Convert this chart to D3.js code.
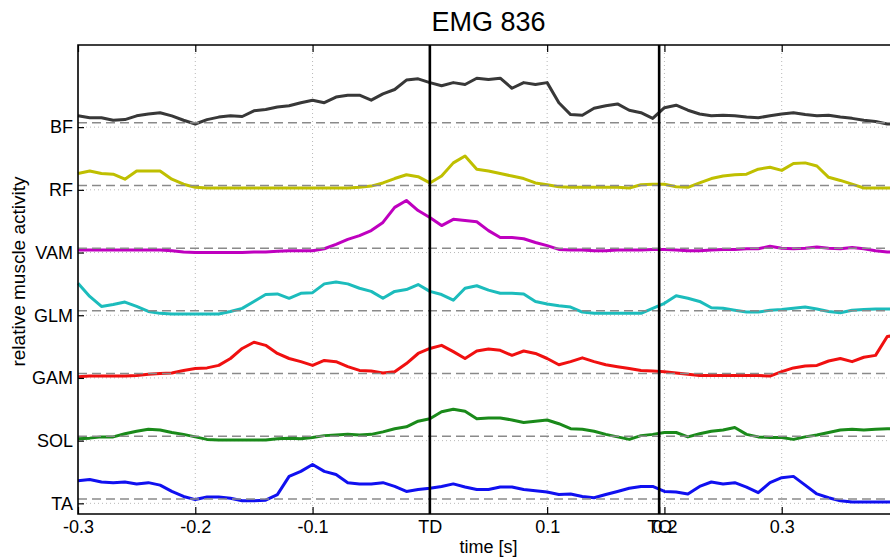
<!DOCTYPE html>
<html>
<head>
<meta charset="utf-8">
<script src="https://cdn.jsdelivr.net/npm/d3@7"></script>
<style>
    body { margin: 0; background: #fff; }
    svg { display: block; font-family: "Liberation Sans", Arial, sans-serif; }
    .tick text { font-size: 18px; fill: #000; }
</style>
</head>
<body>
<div id="emgDiv"></div>
<script>
// Time samples [s]
var time = [-0.30, -0.29, -0.28, -0.27, -0.26, -0.25, -0.24, -0.23, -0.22, -0.21,
    -0.20, -0.19, -0.18, -0.17, -0.16, -0.15, -0.14, -0.13, -0.12, -0.11,
    -0.10, -0.09, -0.08, -0.07, -0.06, -0.05, -0.04, -0.03, -0.02, -0.01,
    0.00, 0.01, 0.02, 0.03, 0.04, 0.05, 0.06, 0.07, 0.08, 0.09,
    0.10, 0.11, 0.12, 0.13, 0.14, 0.15, 0.16, 0.17, 0.18, 0.19,
    0.20, 0.21, 0.22, 0.23, 0.24, 0.25, 0.26, 0.27, 0.28, 0.29,
    0.30, 0.31, 0.32, 0.33, 0.34, 0.35, 0.36, 0.37, 0.38, 0.39, 0.40];

// Muscles, top to bottom
var muscles = ["BF", "RF", "VAM", "GLM", "GAM", "SOL", "TA"];

// Relative activity (% of channel spacing) above each baseline
var bf = [11, 8, 8, 4, 5, 11, 14, 16, 11, 4,
    -2, 5, 9, 11, 10, 19, 21, 25, 27, 32,
    36, 32, 41, 44, 44, 36, 46, 53, 68, 70,
    64, 59, 64, 61, 71, 69, 71, 55, 64, 61,
    64, 32, 13, 12, 23, 27, 30, 20, 16, 7,
    24, 28, 20, 14, 11, 12, 11, 9, 8, 11,
    14, 16, 13, 11, 12, 9, 7, 4, 2, -2, -2];
var rf = [19, 23, 19, 18, 10, 23, 23, 23, 10, 2,
    -3, -4, -4, -4, -4, -4, -4, -4, -4, -4,
    -4, -4, -4, -4, -3, -1, 4, 11, 17, 14,
    4, 15, 36, 47, 26, 23, 19, 15, 11, 4,
    1, -2, -3, -3, -3, -3, -3, -4, 1, 2,
    2, -2, -3, 4, 11, 15, 17, 18, 26, 29,
    24, 35, 36, 31, 13, 8, 2, -4, -4, -4, -4];
var vam = [-3, -3, -3, -3, -3, -3, -3, -3, -4, -6,
    -7, -7, -7, -7, -7, -6, -6, -5, -4, -4,
    -4, -1, 6, 14, 20, 28, 41, 65, 76, 60,
    49, 36, 46, 44, 42, 28, 17, 17, 15, 9,
    4, -2, -3, -3, -4, -4, -3, -3, -3, -2,
    -2, -3, -4, -4, -3, -2, -2, -1, -1, 3,
    0, -1, 0, 2, 0, -1, 1, -1, -4, -6, -6];
var glm = [44, 23, 7, 10, 14, 7, -1, -4, -5, -5,
    -5, -5, -5, -1, 4, 15, 26, 27, 20, 28,
    29, 43, 46, 43, 36, 31, 20, 31, 34, 42,
    31, 26, 17, 36, 40, 33, 28, 28, 27, 15,
    11, 8, 6, -2, -4, -4, -4, -4, -4, 4,
    12, 24, 20, 15, 5, 4, 1, -2, -2, 1,
    2, 4, 6, 3, -1, -3, 1, 2, 3, 3, 3];
var gam = [-5, -4, -4, -4, -4, -3, -1, 0, 1, 5,
    8, 9, 13, 24, 40, 50, 45, 32, 24, 19,
    13, 21, 19, 11, 5, 4, 1, 3, 16, 32,
    40, 45, 35, 24, 36, 39, 37, 29, 36, 32,
    24, 14, 19, 25, 19, 14, 11, 8, 5, 4,
    3, 1, -1, -3, -3, -3, -3, -3, -3, -4,
    3, 9, 12, 13, 20, 24, 19, 26, 29, 59, 62];
var sol = [-4, -3, -1, -1, 4, 8, 11, 10, 6, 3,
    -1, -5, -6, -6, -6, -6, -6, -4, -3, -4,
    -2, 1, 2, 3, 2, 3, 7, 12, 15, 24,
    28, 39, 43, 40, 28, 29, 29, 26, 22, 24,
    26, 20, 12, 11, 8, 3, -1, -5, 1, 3,
    6, 6, -1, 4, 8, 10, 14, 3, -1, -2,
    -2, -5, -1, 2, 6, 10, 11, 10, 11, 12, 12];
var ta = [29, 31, 27, 26, 27, 24, 26, 22, 12, 4,
    -1, 3, 3, 1, -3, -3, -2, 7, 36, 44,
    55, 44, 39, 26, 24, 24, 26, 20, 12, 15,
    17, 20, 24, 19, 15, 15, 19, 19, 15, 13,
    11, 7, 8, 4, 2, 7, 12, 17, 20, 20,
    12, 11, 8, 20, 27, 24, 26, 19, 10, 26,
    34, 36, 22, 8, 2, -3, -5, -5, -5, -5, -5];

var series = [bf, rf, vam, glm, gam, sol, ta];
var colors = ["#383838", "#bfbf00", "#bf00bf", "#1cbcbc", "#f01010", "#1a8a1a", "#1010f0"];

// Gait events [s]
var events = [{ label: "TD", t: 0 }, { label: "TO", t: 0.1955 }];
var xTicks = [-0.3, -0.2, -0.1, 0, 0.1, 0.2, 0.3];

// Canvas and chart dimensions (plot runs past the right edge of the window)
const canvas = { width: 890, height: 557 };
const margin = { left: 78, top: 45 };
const chart = { width: 821, height: 469 };

var svg = d3.select("#emgDiv")
    .append("svg")
    .attr("width", canvas.width)
    .attr("height", canvas.height);

var g = svg.append("g")
    .attr("transform", "translate(" + margin.left + "," + margin.top + ")");

// Scales: each channel sits 100 units above the one below it
var x = d3.scaleLinear().domain([-0.3, 0.4]).range([0, chart.width]);
var y = d3.scaleLinear().domain([-17, 731]).range([chart.height, 0]);
var baseShift = 7; // dashed baseline sits slightly above the tick
function offset(i) { return (muscles.length - 1 - i) * 100; }

// Dotted grid
g.append("g").selectAll("line")
    .data(xTicks.slice(1))
    .enter().append("line")
    .attr("x1", function(d) { return x(d); })
    .attr("x2", function(d) { return x(d); })
    .attr("y1", 0)
    .attr("y2", chart.height)
    .style("stroke", "#b8b8b8")
    .style("stroke-width", 1)
    .style("stroke-dasharray", "1,3");

g.append("g").selectAll("line")
    .data(muscles)
    .enter().append("line")
    .attr("x1", 0)
    .attr("x2", chart.width)
    .attr("y1", function(d, i) { return y(offset(i)); })
    .attr("y2", function(d, i) { return y(offset(i)); })
    .style("stroke", "#b8b8b8")
    .style("stroke-width", 1)
    .style("stroke-dasharray", "1,3");

// EMG traces
var line = d3.line()
    .x(function(d, j) { return x(time[j]); });

g.append("g").selectAll("path")
    .data(series)
    .enter().append("path")
    .attr("d", function(s, i) {
        return line.y(function(v) { return y(offset(i) + baseShift + v); })(s);
    })
    .style("fill", "none")
    .style("stroke", function(s, i) { return colors[i]; })
    .style("stroke-width", 3)
    .style("stroke-linejoin", "round");

// Dashed baselines
g.append("g").selectAll("line")
    .data(muscles)
    .enter().append("line")
    .attr("x1", 0)
    .attr("x2", chart.width)
    .attr("y1", function(d, i) { return y(offset(i) + baseShift); })
    .attr("y2", function(d, i) { return y(offset(i) + baseShift); })
    .style("stroke", "#8a8a8a")
    .style("stroke-width", 1.5)
    .style("stroke-dasharray", "9,5");

// Event lines (TD, TO)
g.append("g").selectAll("line")
    .data(events)
    .enter().append("line")
    .attr("x1", function(d) { return x(d.t); })
    .attr("x2", function(d) { return x(d.t); })
    .attr("y1", 0)
    .attr("y2", chart.height)
    .style("stroke", "#000")
    .style("stroke-width", 2.6);

// Axes
function tickLabel(d) {
    var ev = events.find(function(e) { return e.t === d; });
    return ev ? ev.label : String(d);
}

g.append("g")
    .attr("transform", "translate(0," + chart.height + ")")
    .call(d3.axisBottom(x)
        .tickValues(xTicks.concat([events[1].t]))
        .tickSize(-7)
        .tickPadding(6)
        .tickFormat(tickLabel));

g.append("g")
    .call(d3.axisTop(x).tickValues(xTicks).tickSize(-7).tickFormat(""));

g.append("g")
    .call(d3.axisLeft(y)
        .tickValues(muscles.map(function(d, i) { return offset(i); }))
        .tickSize(-6)
        .tickPadding(5)
        .tickFormat(function(d) { return muscles[muscles.length - 1 - d / 100]; }));

svg.selectAll(".domain").remove();
svg.selectAll(".tick line").style("stroke", "#000").style("stroke-width", 1.2);

// Frame
g.append("path")
    .attr("d", "M" + chart.width + ",0H0V" + chart.height + "H" + chart.width)
    .style("fill", "none")
    .style("stroke", "#000")
    .style("stroke-width", 1.6);

// Title and labels
svg.append("text")
    .attr("x", margin.left + chart.width / 2)
    .attr("y", 31)
    .style("text-anchor", "middle")
    .style("font-size", "27px")
    .text("EMG 836");

svg.append("text")
    .attr("x", margin.left + chart.width / 2)
    .attr("y", 553)
    .style("text-anchor", "middle")
    .style("font-size", "18px")
    .text("time [s]");

svg.append("text")
    .attr("transform", "translate(25," + (margin.top + chart.height / 2 - 8) + ") rotate(-90)")
    .style("text-anchor", "middle")
    .style("font-size", "19px")
    .text("relative muscle activity");
</script>
</body>
</html>
